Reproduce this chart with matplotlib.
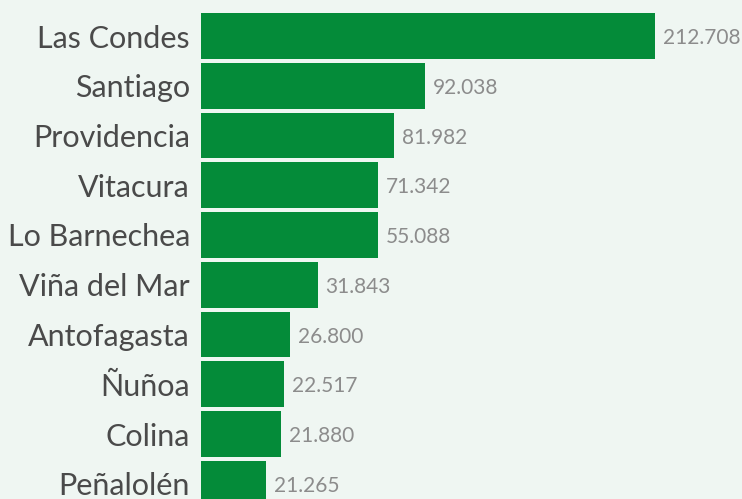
import matplotlib.pyplot as plt

# communes, the printed values, and bar lengths as drawn in the picture
comunas = ["Las Condes", "Santiago", "Providencia", "Vitacura", "Lo Barnechea",
           "Viña del Mar", "Antofagasta", "Ñuñoa", "Colina", "Peñalolén"]
valores = ["212.708", "92.038", "81.982", "71.342", "55.088",
           "31.843", "26.800", "22.517", "21.880", "21.265"]
largos = [212.708, 105.0, 90.4, 82.9, 82.9, 54.8, 41.7, 38.9, 37.5, 30.5]

bg = "#eff6f2"
verde = "#048b39"

fig = plt.figure(figsize=(7.42, 4.99), dpi=100, facecolor=bg)
ax = fig.add_axes([201 / 742, 0, 541 / 742, 1])
ax.set_facecolor(bg)

y = list(range(len(comunas)))
ax.barh(y, largos, height=0.92, color=verde, left=0)

for i, (w, txt) in enumerate(zip(largos, valores)):
    ax.annotate(txt, (w, i), xytext=(5.5, -1.5), textcoords="offset points",
                va="center", ha="left", fontsize=15, color="#8c8c8c",
                family="Lato")

ax.set_xlim(0, 541 / 2.134)
ax.set_ylim((499 - 36) / 49.75, -36 / 49.75)
ax.set_yticks(y)
ax.set_yticklabels(comunas, fontsize=22, color="#4a4a4a", family="Lato")
ax.tick_params(axis="y", length=0, pad=8)
ax.set_xticks([])
for s in ax.spines.values():
    s.set_visible(False)

fig.savefig("out.png", dpi=100, facecolor=bg)
